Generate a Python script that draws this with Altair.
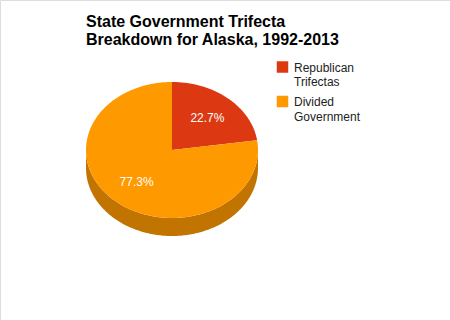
import math
import altair as alt
import pandas as pd

# ---- data ----
categories = ["Republican Trifectas", "Divided Government"]
values = [22.7, 77.3]
pct_labels = ["22.7%", "77.3%"]
title_lines = ["State Government Trifecta", "Breakdown for Alaska, 1992-2013"]

# ---- styles ----
top_colors = ["#dc3912", "#ff9900"]
side_colors = ["#a82b0d", "#c27400"]
FONT = "Liberation Sans"

# pie geometry in unit space (x unit = horizontal radius, y unit = vertical radius)
DEPTH = 18 / 68.0
LABEL_FRAC = 0.63

total = sum(values)
top_rows, side_rows, label_rows = [], [], []
start = 0.0
for cat, v, lab in zip(categories, values, pct_labels):
    a0 = start / total * 2 * math.pi
    a1 = (start + v) / total * 2 * math.pi
    n = max(4, int(v / total * 360))
    top_rows.append({"cat": cat, "i": 0, "x": 0.0, "y": 0.0})
    for k in range(n + 1):
        a = a0 + (a1 - a0) * k / n
        top_rows.append({"cat": cat, "i": k + 1, "x": math.sin(a), "y": math.cos(a)})
    s = max(a0, math.pi / 2)
    e = min(a1, 3 * math.pi / 2)
    if e > s:
        m = max(4, int((e - s) / (2 * math.pi) * 360))
        idx = 0
        for k in range(m + 1):
            a = s + (e - s) * k / m
            side_rows.append({"cat": cat, "i": idx, "x": math.sin(a), "y": math.cos(a)})
            idx += 1
        for k in range(m + 1):
            a = e - (e - s) * k / m
            side_rows.append({"cat": cat, "i": idx, "x": math.sin(a), "y": math.cos(a) - DEPTH})
            idx += 1
    mid = (a0 + a1) / 2
    label_rows.append({"cat": cat, "label": lab,
                       "x": LABEL_FRAC * math.sin(mid), "y": LABEL_FRAC * math.cos(mid)})
    start += v

top_df = pd.DataFrame(top_rows)
side_df = pd.DataFrame(side_rows)
label_df = pd.DataFrame(label_rows)
legend_df = pd.DataFrame({"cat": categories})

W, H = 450, 320
CX, CY, RX, RY = 172.0, 150.0, 86.0, 68.0
xs = alt.Scale(domain=[-CX / RX, (W - CX) / RX], nice=False, zero=False)
ys = alt.Scale(domain=[-(H - CY) / RY, CY / RY], nice=False, zero=False)

side = alt.Chart(side_df).mark_line(filled=True, strokeWidth=0).encode(
    x=alt.X("x:Q", scale=xs, axis=None),
    y=alt.Y("y:Q", scale=ys, axis=None),
    color=alt.Color("cat:N", scale=alt.Scale(domain=categories, range=side_colors), legend=None),
    order="i:Q",
)

top = alt.Chart(top_df).mark_line(filled=True, strokeWidth=0).encode(
    x=alt.X("x:Q", scale=xs, axis=None),
    y=alt.Y("y:Q", scale=ys, axis=None),
    color=alt.Color("cat:N", scale=alt.Scale(domain=categories, range=top_colors), legend=None),
    order="i:Q",
)

labels = alt.Chart(label_df).mark_text(font=FONT, fontSize=12, color="white").encode(
    x=alt.X("x:Q", scale=xs, axis=None),
    y=alt.Y("y:Q", scale=ys, axis=None),
    text="label:N",
)

# legend (drawn from the categories)
leg_y = alt.Scale(type="point", domain=categories, range=[67, 101.5], padding=0)
leg_sq = alt.Chart(legend_df).mark_square(size=132, opacity=1, strokeWidth=0).encode(
    x=alt.value(282.5),
    y=alt.Y("cat:N", scale=leg_y, axis=None),
    color=alt.Color("cat:N", scale=alt.Scale(domain=categories, range=top_colors), legend=None),
)
leg_tx = alt.Chart(legend_df).mark_text(
    font=FONT, fontSize=12, color="#222222", align="left", baseline="alphabetic",
    lineBreak=" ", lineHeight=14.6, dy=4.6,
).encode(
    x=alt.value(294),
    y=alt.Y("cat:N", scale=leg_y, axis=None),
    text="cat:N",
)

chart = alt.layer(side, top, labels, leg_sq, leg_tx).resolve_scale(
    color="independent", y="independent"
).properties(
    width=W, height=H, padding=0, autosize=alt.AutoSizeParams(type="none"),
    title=alt.TitleParams(
        text=title_lines, anchor="start", dx=86, dy=48, offset=0,
        font=FONT, fontSize=16, fontWeight="bold", color="#000000", lineHeight=18.4,
    ),
).configure_view(stroke=None, strokeWidth=0).configure(background="white")

chart.save("out.html", embed_options={"renderer": "svg", "actions": False})
